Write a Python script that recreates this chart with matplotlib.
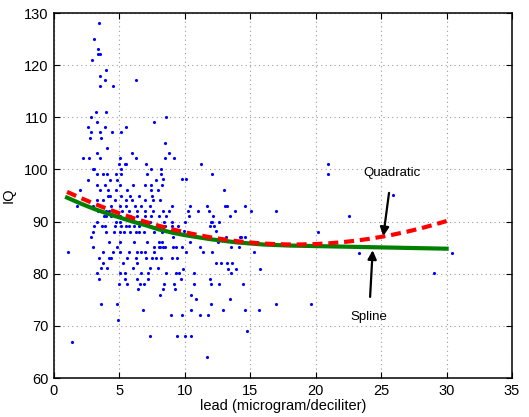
import matplotlib
matplotlib.use("Agg")
import matplotlib.pyplot as plt

plt.rcParams['font.family'] = ['Liberation Sans', 'DejaVu Sans']

# scatter data: (lead, IQ)
lead = [
    3.46, 3.06, 3.36, 3.40, 3.50, 2.88, 3.97, 3.54, 3.92, 6.26, 3.54, 4.48,
    3.18, 3.95, 2.83, 3.26, 7.66, 2.62, 3.88, 5.53, 2.80, 3.54, 4.41, 5.10,
    2.77, 3.56, 4.07, 3.26, 5.96, 2.22, 2.67, 3.54, 5.07, 6.26, 4.94, 5.42,
    5.50, 7.03, 3.00, 3.08, 5.10, 7.41,
    3.26, 3.72, 4.02, 4.76, 5.14, 7.08, 8.20,
    2.57, 4.25, 4.84, 7.82,
    3.28, 3.90, 5.04, 6.04, 6.95, 7.43,
    2.00, 3.54, 4.15, 4.71, 5.60, 7.41, 7.95,
    4.13, 4.25, 5.10, 5.80, 6.47, 7.51,
    3.31, 3.77, 4.64, 5.50, 5.93, 6.98, 7.56,
    1.78, 2.95, 4.38, 5.07, 5.50, 6.16, 6.65, 7.36,
    3.36, 3.95, 4.23, 5.19, 5.73, 6.34, 6.95, 7.58,
    3.82, 3.97, 4.35, 5.07, 5.83, 6.32, 6.98, 7.43, 8.00,
    3.26, 4.74, 5.04, 6.11, 6.47, 7.33,
    3.08, 3.67, 3.92, 4.68, 5.14, 5.50, 5.71, 6.13, 6.52, 7.36, 7.89,
    3.00, 3.97, 4.56, 5.04, 5.37, 5.78, 6.26, 6.47, 6.90, 7.61,
    2.80,
    4.18, 5.04, 6.11, 7.08, 8.02,
    2.95, 4.79, 7.61, 8.02,
    1.10, 3.77, 4.48, 5.07, 5.75, 6.32, 6.65, 6.93, 7.61,
    3.41, 4.23, 4.33, 5.60, 6.29, 7.03, 7.46, 7.77,
    3.77, 5.25, 6.34,
    3.57, 4.02, 6.04, 7.33, 7.92,
    3.29, 5.07, 5.45, 6.62, 7.16,
    3.46, 5.45, 6.32, 7.21,
    4.99, 5.60, 6.57, 6.90,
    6.42,
    3.59, 4.84,
    6.78,
    4.89,
    7.33,
    1.40,
    8.58, 8.45, 8.81, 8.48, 9.19, 11.23, 8.17, 8.30, 9.80, 10.08, 12.09, 8.27, 12.99,
    9.01, 10.37, 11.66, 13.06, 13.24, 14.61,
    8.30, 10.24, 11.00, 11.82, 13.85, 15.03, 16.98,
    10.29, 12.15, 13.47,
    8.43, 9.98, 11.99, 12.09, 12.63,
    11.89, 12.22,
    9.93, 12.35,
    9.09, 13.12, 14.19, 14.31, 14.61,
    8.27, 10.37, 12.55,
    8.10, 8.30, 8.45, 9.09, 9.32, 9.80, 11.13, 13.52, 14.13,
    10.06, 11.38, 12.07, 15.28,
    8.17, 9.40,
    12.35, 12.73, 13.24, 13.60,
    9.86, 13.32, 13.93, 15.71,
    9.55, 10.67, 13.52,
    9.70, 11.89,
    8.40, 9.17, 10.70, 11.97, 12.60, 14.46,
    8.30, 9.27,
    8.10, 10.49,
    10.87, 13.47,
    11.97, 16.98,
    10.49, 12.91, 14.56, 15.66,
    8.94, 9.78, 11.15, 11.79,
    14.74,
    9.40, 10.03, 10.47,
    11.69,
    8.10, 8.81, 8.53, 8.99, 8.46, 9.01, 9.45, 8.25, 9.01, 8.99, 8.58, 9.30,
    20.93, 20.93, 25.87, 22.51, 20.19, 23.30, 30.43, 29.03, 19.63,
]
iq = [
    128.1, 125.1, 123.1, 122.1, 122.1, 121.0, 119.1, 118.0, 117.1, 117.1, 116.0, 116.0,
    111.1, 111.1, 110.0, 109.1, 109.1, 108.1, 108.1, 108.1, 107.1, 107.1, 107.1, 107.1,
    106.1, 106.1, 104.1, 103.1, 103.1, 102.1, 102.1, 102.1, 102.1, 102.1, 101.0, 101.0,
    101.0, 101.0, 100.0, 100.0, 100.0, 100.0,
    99.1, 99.1, 99.1, 99.1, 99.1, 99.1, 99.1,
    98.0, 98.0, 98.0, 98.0,
    97.1, 97.1, 97.1, 97.1, 97.1, 97.1,
    96.0, 96.0, 96.0, 96.0, 96.0, 96.0, 96.0,
    95.0, 95.0, 95.0, 95.0, 95.0, 95.0,
    94.1, 94.1, 94.1, 94.1, 94.1, 94.1, 94.1,
    93.0, 93.0, 93.0, 93.0, 93.0, 93.0, 93.0, 93.0,
    92.1, 92.1, 92.1, 92.1, 92.1, 92.1, 92.1, 92.1,
    91.1, 91.1, 91.1, 91.1, 91.1, 91.1, 91.1, 91.1, 91.1,
    90.0, 90.0, 90.0, 90.0, 90.0, 90.0,
    89.1, 89.1, 89.1, 89.1, 89.1, 89.1, 89.1, 89.1, 89.1, 89.1, 89.1,
    88.0, 88.0, 88.0, 88.0, 88.0, 88.0, 88.0, 88.0, 88.0, 88.0,
    87.0,
    86.1, 86.1, 86.1, 86.1, 86.1,
    85.1, 85.1, 85.1, 85.1,
    84.1, 84.1, 84.1, 84.1, 84.1, 84.1, 84.1, 84.1, 84.1,
    83.1, 83.1, 83.1, 83.1, 83.1, 83.1, 83.1, 83.1,
    82.0, 82.0, 82.0,
    81.1, 81.1, 81.1, 81.1, 81.1,
    80.1, 80.1, 80.1, 80.1, 80.1,
    79.0, 79.0, 79.0, 79.0,
    78.1, 78.1, 78.1, 78.1,
    77.1,
    74.1, 74.1,
    73.0,
    71.1,
    68.1,
    67.0,
    110.1, 105.1, 103.1, 102.1, 102.1, 101.1, 100.0, 98.1, 98.1, 98.1, 99.1, 97.1, 96.0,
    93.0, 93.0, 93.0, 93.0, 93.0, 93.0,
    92.1, 92.1, 92.1, 92.1, 92.1, 92.1, 92.1,
    91.1, 91.1, 91.1,
    90.0, 90.0, 90.0, 90.0, 90.0,
    89.1, 89.1,
    88.1, 88.1,
    87.1, 87.1, 87.1, 87.1, 87.1,
    86.1, 86.1, 86.1,
    85.1, 85.1, 85.1, 85.1, 85.1, 85.1, 85.1, 85.1, 85.1,
    84.1, 84.1, 84.1, 84.1,
    83.1, 83.1,
    82.0, 82.0, 82.0, 82.0,
    81.0, 81.0, 81.0, 81.0,
    80.1, 80.1, 80.1,
    79.0, 79.0,
    78.1, 78.1, 78.1, 78.1, 78.1, 78.1,
    77.1, 77.1,
    76.0, 76.0,
    75.1, 75.1,
    74.1, 74.1,
    73.0, 73.0, 73.0, 73.0,
    72.0, 72.0, 72.0, 72.0,
    69.1,
    68.0, 68.0, 68.0,
    64.0,
    94.1, 92.1, 91.1, 90.0, 89.1, 89.1, 89.1, 88.0, 88.0, 83.1, 80.1, 80.1,
    101.1, 99.1, 95.1, 91.1, 88.0, 84.0, 84.0, 80.1, 74.1,
]

# fitted curves
quad_x = [1, 2, 3, 4, 5, 6, 7, 8, 9, 10, 11, 12, 13, 14, 15, 16, 17, 18, 19, 20,
          21, 22, 23, 24, 25, 26, 27, 28, 29, 30]
quad_y = [95.70, 94.57, 93.51, 92.51, 91.59, 90.72, 89.94, 89.20, 88.54, 87.95,
          87.43, 86.97, 86.58, 86.24, 85.99, 85.79, 85.67, 85.61, 85.62, 85.69,
          85.83, 86.04, 86.32, 86.66, 87.07, 87.54, 88.08, 88.69, 89.37, 90.11]
spl_x = [1, 2, 3, 4, 5, 6, 7, 8, 9, 10, 11, 12, 13, 14, 15, 16, 17, 18, 19, 20,
         22, 24, 26, 28, 30]
spl_y = [94.6, 93.5, 92.5, 91.6, 90.8, 90.0, 89.3, 88.5, 87.9, 87.4, 87.0, 86.6,
         86.3, 86.0, 85.8, 85.6, 85.5, 85.4, 85.35, 85.3, 85.2, 85.1, 85.0, 84.9, 84.8]

xticks = [0, 5, 10, 15, 20, 25, 30, 35]
yticks = [60, 70, 80, 90, 100, 110, 120, 130]

fig = plt.figure(figsize=(5.29, 4.17), dpi=100)
ax = fig.add_axes([0.102, 0.0935, 0.866, 0.8753])

ax.plot(lead, iq, '.', color='#0000ff', markersize=2.5, zorder=3)
ax.plot(spl_x, spl_y, '-', color='#008000', linewidth=3, zorder=4)
ax.plot(quad_x, quad_y, '--', color='#ff0000', linewidth=3, dashes=(2.4, 1.4), zorder=5)

ax.set_xlim(0, 35)
ax.set_ylim(60, 130)
ax.set_xticks(xticks)
ax.set_yticks(yticks)
ax.grid(True, linestyle=(0, (1, 3)), color='0.6', linewidth=0.8)
ax.set_axisbelow(True)
ax.tick_params(direction='in', top=True, right=True, length=4, width=0.8,
               labelsize=10.5, pad=4)
for s in ax.spines.values():
    s.set_linewidth(1.1)
ax.set_xlabel('lead (microgram/deciliter)', fontsize=10.5, labelpad=1)
ax.set_ylabel('IQ', fontsize=10.5, labelpad=6)

ax.annotate('Quadratic', xy=(25.16, 87.2), xytext=(25.8, 99.3),
            ha='center', va='center', fontsize=9.5,
            arrowprops=dict(arrowstyle='-|>', color='k', lw=1.6,
                            mutation_scale=13, shrinkA=8, shrinkB=0))
ax.annotate('Spline', xy=(24.35, 84.5), xytext=(24.07, 71.75),
            ha='center', va='center', fontsize=9.5,
            arrowprops=dict(arrowstyle='-|>', color='k', lw=1.6,
                            mutation_scale=13, shrinkA=8, shrinkB=0))

fig.savefig('out.png', dpi=100)
